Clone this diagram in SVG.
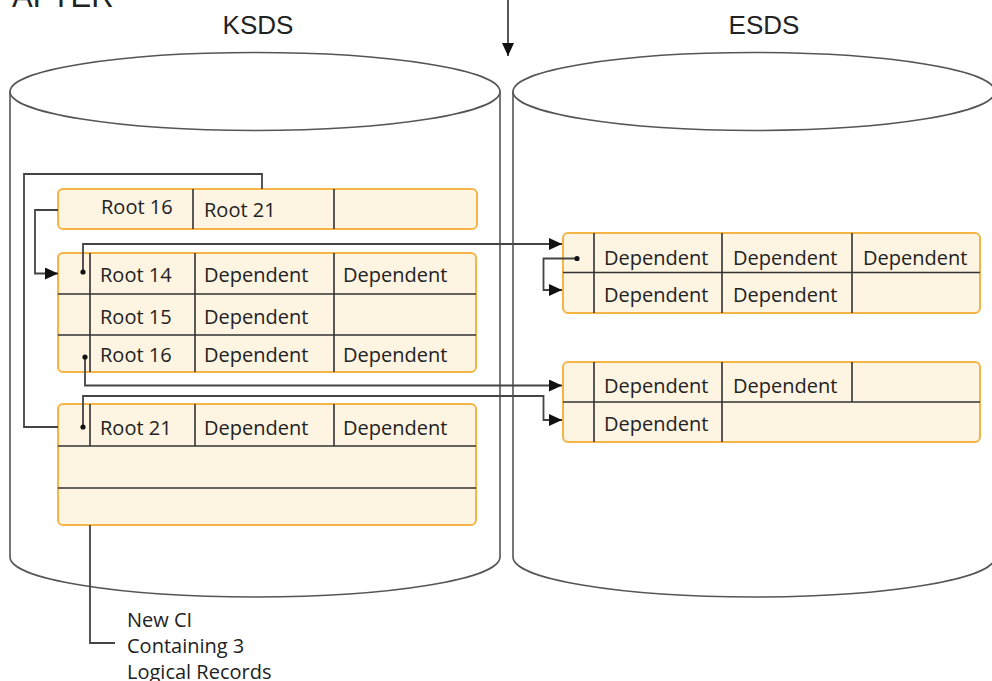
<svg xmlns="http://www.w3.org/2000/svg" width="992" height="681" viewBox="0 0 992 681">
<style>
.title{font-family:"Liberation Sans",Arial,sans-serif;font-size:26px;fill:#222}
.t{font-family:"Open Sans","Liberation Sans",sans-serif;font-size:20px;fill:#222}
.cyl{fill:none;stroke:#555;stroke-width:1.6}
.box{fill:#fdf4e2;stroke:#f5b446;stroke-width:2}
.div{stroke:#333;stroke-width:1.6;fill:none}
.con{fill:none;stroke:#444;stroke-width:1.8}
.dot{fill:#111}
</style>
<defs>
<marker id="ah" viewBox="0 0 13 12" refX="13" refY="6" markerWidth="13" markerHeight="12" orient="auto" markerUnits="userSpaceOnUse">
<path d="M0,0 L13,6 L0,12 z" fill="#111"/>
</marker>
</defs>
<rect width="992" height="681" fill="#fff"/>
<text class="title" x="12" y="7" style="font-size:31px">AFTER</text>

<g id="ksds">
<ellipse class="cyl" cx="255" cy="91.5" rx="245" ry="39"/>
<path class="cyl" d="M10,91.5 V557 A245,40 0 0 0 500,557 V91.5"/>
<text class="title" x="258" y="34" text-anchor="middle">KSDS</text>
</g>
<g id="esds">
<ellipse class="cyl" cx="754" cy="91.5" rx="241" ry="39"/>
<path class="cyl" d="M513,91.5 V557 A241,40 0 0 0 995,557 V91.5"/>
<text class="title" x="764" y="34" text-anchor="middle">ESDS</text>
</g>

<g id="index-ci">
<rect class="box" x="58" y="189" width="419" height="40" rx="5"/>
<path class="div" d="M193,189 V229 M334,189 V229"/>
<text class="t" x="101" y="214">Root 16</text>
<text class="t" x="204" y="217">Root 21</text>
</g>

<g id="ci-root14">
<rect class="box" x="58" y="253" width="418" height="119" rx="5"/>
<path class="div" d="M58,294 H476 M58,335 H476 M90,253 V372 M195,253 V372 M334,253 V372"/>
<text class="t" x="100" y="282">Root 14</text>
<text class="t" x="204" y="282">Dependent</text>
<text class="t" x="343" y="282">Dependent</text>
<text class="t" x="100" y="324">Root 15</text>
<text class="t" x="204" y="324">Dependent</text>
<text class="t" x="100" y="362">Root 16</text>
<text class="t" x="204" y="362">Dependent</text>
<text class="t" x="343" y="362">Dependent</text>
</g>

<g id="ci-root21">
<rect class="box" x="58" y="404" width="418" height="121" rx="5"/>
<path class="div" d="M58,446 H476 M58,488 H476 M90,404 V446 M195,404 V446 M334,404 V446"/>
<text class="t" x="100" y="435">Root 21</text>
<text class="t" x="204" y="435">Dependent</text>
<text class="t" x="343" y="435">Dependent</text>
</g>

<g id="esds-ci-1">
<rect class="box" x="563" y="233" width="417" height="80" rx="5"/>
<path class="div" d="M563,272.5 H980 M594,233 V313 M722,233 V313 M852,233 V313"/>
<text class="t" x="604" y="265">Dependent</text>
<text class="t" x="733" y="265">Dependent</text>
<text class="t" x="863" y="265">Dependent</text>
<text class="t" x="604" y="302">Dependent</text>
<text class="t" x="733" y="302">Dependent</text>
</g>

<g id="esds-ci-2">
<rect class="box" x="563" y="362" width="417" height="80" rx="5"/>
<path class="div" d="M563,402 H980 M594,362 V442 M722,362 V442 M852,362 V402"/>
<text class="t" x="604" y="393">Dependent</text>
<text class="t" x="733" y="393">Dependent</text>
<text class="t" x="604" y="431">Dependent</text>
</g>

<g id="note">
<text class="t" x="127" y="627">New CI</text>
<text class="t" x="127" y="653">Containing 3</text>
<text class="t" x="127" y="679">Logical Records</text>
</g>

<g id="connectors">
<path class="con" d="M508,0 V56" marker-end="url(#ah)"/>
<path class="con" d="M58,210 H35 V273.5 H58" marker-end="url(#ah)"/>
<path class="con" d="M262,189 V174 H24 V427 H58"/>
<path class="con" d="M83,272 V244 H562" marker-end="url(#ah)"/>
<path class="con" d="M577,258.5 H543.5 V290 H562" marker-end="url(#ah)"/>
<path class="con" d="M85,357 V385.5 H562" marker-end="url(#ah)"/>
<path class="con" d="M83,427 V396 H543.5 V420 H562" marker-end="url(#ah)"/>
<path class="con" d="M90,525 V643 H115"/>
<circle class="dot" cx="83" cy="272" r="2.6"/>
<circle class="dot" cx="85" cy="357" r="2.6"/>
<circle class="dot" cx="83" cy="427" r="2.6"/>
<circle class="dot" cx="577" cy="258.5" r="2.6"/>
</g>
</svg>
